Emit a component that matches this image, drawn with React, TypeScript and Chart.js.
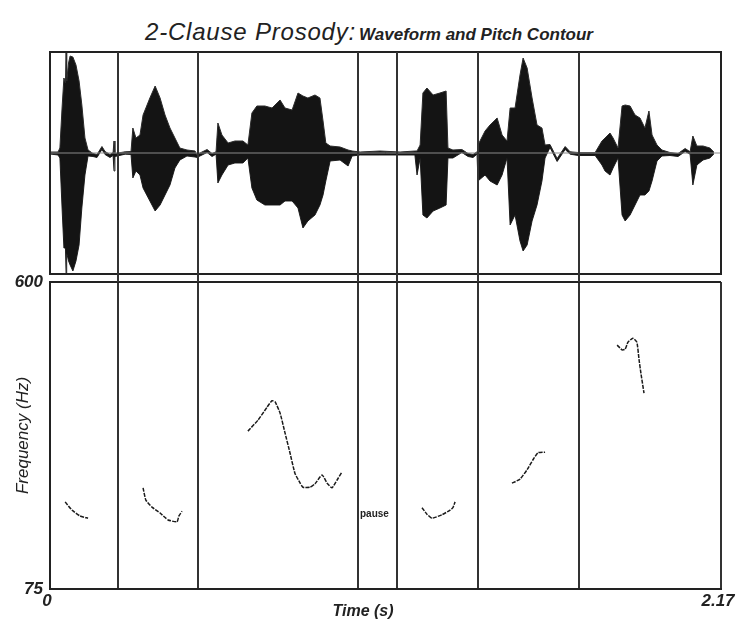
import React, { useEffect, useRef } from "react";
import { Chart, registerables } from "chart.js";

Chart.register(...registerables);

const FONT = '"Liberation Sans", Arial, Helvetica, sans-serif';

// ---- axes / segmentation ----
const timeMax = 2.17;
const boundaries = [0.22, 0.479, 0.996, 1.122, 1.384, 1.711];
const xTickLabels = ["0", "2.17"];
const freqTicks = [75, 600];
const pauseLabel = "pause";

// ---- waveform envelope (time in s, relative amplitude) ----
const waveTime = [
  0.0, 0.026, 0.032, 0.039, 0.045, 0.05, 0.052, 0.054, 0.06, 0.065, 0.074, 0.084, 0.094, 0.103, 0.113, 0.123,
  0.139, 0.152, 0.168, 0.178, 0.194, 0.204, 0.207, 0.21, 0.243, 0.262, 0.268, 0.278, 0.291, 0.301, 0.323, 0.34,
  0.356, 0.372, 0.388, 0.404, 0.42, 0.443, 0.469, 0.475, 0.508, 0.524, 0.537, 0.543, 0.556, 0.576, 0.598, 0.624,
  0.64, 0.653, 0.669, 0.695, 0.718, 0.744, 0.76, 0.783, 0.802, 0.818, 0.834, 0.857, 0.873, 0.883, 0.892, 0.906,
  0.938, 0.964, 0.977, 1.003, 1.067, 1.132, 1.18, 1.187, 1.197, 1.206, 1.219, 1.239, 1.261, 1.281, 1.287, 1.303,
  1.332, 1.352, 1.368, 1.381, 1.384, 1.407, 1.423, 1.446, 1.462, 1.478, 1.488, 1.504, 1.52, 1.53, 1.543, 1.559,
  1.575, 1.591, 1.601, 1.617, 1.64, 1.666, 1.682, 1.708, 1.763, 1.785, 1.795, 1.811, 1.821, 1.837, 1.85, 1.86,
  1.876, 1.892, 1.908, 1.924, 1.937, 1.947, 1.963, 1.979, 2.005, 2.031, 2.054, 2.07, 2.079, 2.092, 2.112, 2.134,
  2.147,
];
const waveTop = [
  0.01, 0.01, 0.05, 0.45, 0.75, 0.7, 1.01, 0.72, 0.9, 0.97, 0.96, 0.88, 0.72, 0.48, 0.15, 0.03,
  -0.005, -0.015, 0.065, 0.015, -0.015, 0.005, 0.12, -0.005, 0.012, 0.015, 0.25, 0.15, 0.18, 0.38, 0.55, 0.67,
  0.55, 0.38, 0.25, 0.15, 0.05, 0.03, 0.02, -0.015, 0.035, -0.005, 0.012, 0.3, 0.18, 0.1, 0.12, 0.12,
  0.08, 0.4, 0.47, 0.47, 0.45, 0.53, 0.45, 0.43, 0.6, 0.57, 0.55, 0.58, 0.55, 0.32, 0.1, 0.07,
  0.06, 0.03, 0.02, 0.01, 0.02, 0.01, 0.02, 0.02, 0.08, 0.6, 0.65, 0.58, 0.6, 0.62, 0.05, 0.03,
  0.035, -0.005, -0.015, 0.012, 0.08, 0.22, 0.28, 0.35, 0.18, 0.12, 0.45, 0.45, 0.78, 0.95, 0.85, 0.55,
  0.28, 0.25, 0.08, 0.085, -0.055, 0.065, 0.012, 0.005, 0.005, 0.12, 0.15, 0.2, 0.15, 0.05, 0.47, 0.48,
  0.47, 0.38, 0.35, 0.25, 0.42, 0.18, 0.08, 0.03, 0.005, -0.005, 0.045, 0.012, 0.17, 0.07, 0.07, 0.05,
  0.01,
];
const waveBottom = [
  -0.01, -0.02, -0.05, -0.55, -0.95, -0.95, -1.21, -1.0, -1.08, -1.12, -1.18, -1.08, -0.92, -0.55, -0.22, -0.03,
  -0.035, -0.045, 0.035, -0.015, -0.045, -0.025, -0.18, -0.035, -0.012, -0.015, -0.25, -0.18, -0.22, -0.35, -0.48, -0.58,
  -0.52, -0.42, -0.32, -0.15, -0.07, -0.03, -0.04, -0.045, 0.005, -0.035, -0.012, -0.3, -0.22, -0.12, -0.1, -0.1,
  -0.05, -0.35, -0.47, -0.52, -0.52, -0.52, -0.48, -0.48, -0.55, -0.75, -0.68, -0.62, -0.52, -0.42, -0.28, -0.08,
  -0.07, -0.13, -0.03, -0.02, -0.02, -0.02, -0.02, -0.22, -0.05, -0.62, -0.65, -0.58, -0.55, -0.52, -0.05, -0.05,
  0.005, -0.035, -0.045, -0.012, -0.28, -0.22, -0.28, -0.32, -0.22, -0.05, -0.72, -0.62, -0.88, -0.98, -0.92, -0.68,
  -0.52, -0.28, -0.05, 0.055, -0.085, 0.035, -0.012, -0.025, -0.025, -0.12, -0.18, -0.22, -0.15, -0.05, -0.62, -0.68,
  -0.62, -0.52, -0.42, -0.42, -0.38, -0.28, -0.08, -0.03, -0.025, -0.035, 0.015, -0.012, -0.32, -0.12, -0.07, -0.05,
  -0.01,
];

// ---- pitch contour segments (time in s, Hz) ----
const pitchT1 = [0.049, 0.071, 0.097, 0.123];
const pitchF1 = [224, 210, 200, 196];
const pitchT2 = [0.301, 0.31, 0.33, 0.356, 0.382, 0.411, 0.417, 0.427];
const pitchF2 = [248, 227, 215, 205, 193, 190, 200, 208];
const pitchT3 = [0.64, 0.673, 0.702, 0.718, 0.728, 0.744, 0.76, 0.776, 0.792, 0.809, 0.818, 0.841, 0.857, 0.88, 0.896, 0.912, 0.928, 0.944];
const pitchF3 = [345, 364, 386, 397, 395, 376, 342, 308, 273, 256, 249, 249, 255, 270, 256, 248, 261, 275];
const pitchT4 = [1.203, 1.219, 1.235, 1.268, 1.294, 1.303, 1.31];
const pitchF4 = [214, 203, 196, 202, 210, 214, 224];
const pitchT5 = [1.494, 1.52, 1.543, 1.562, 1.578, 1.601];
const pitchF5 = [256, 263, 279, 296, 308, 309];
const pitchT6 = [1.834, 1.85, 1.86, 1.869, 1.885, 1.898, 1.905, 1.911, 1.921];
const pitchF6 = [492, 484, 485, 497, 504, 497, 467, 444, 410];

const W = 736;
const H = 622;

export default function App() {
  const waveRef = useRef<HTMLCanvasElement>(null);
  const pitchRef = useRef<HTMLCanvasElement>(null);

  useEffect(() => {
    const upper = waveTime.map((t, i) => ({ x: t, y: waveTop[i] }));
    const lower = waveTime.map((t, i) => ({ x: t, y: waveBottom[i] }));

    const waveFrame = {
      id: "waveFrame",
      afterDatasetsDraw(chart: any) {
        const { ctx, chartArea, scales } = chart;
        const { left, right, top, bottom } = chartArea;
        ctx.save();
        ctx.strokeStyle = "#222";
        ctx.lineWidth = 2;
        ctx.strokeRect(left, top, right - left, bottom - top);
        ctx.strokeStyle = "#333";
        for (const b of boundaries) {
          const px = Math.round(scales.x.getPixelForValue(b));
          ctx.beginPath();
          ctx.moveTo(px, top);
          ctx.lineTo(px, bottom + 8);
          ctx.stroke();
        }
        ctx.restore();
      },
    };

    const wave = new Chart(waveRef.current!, {
      type: "line",
      data: {
        datasets: [
          {
            data: [
              { x: 0, y: 0 },
              { x: timeMax, y: 0 },
            ],
            borderColor: "#8a8a8a",
            borderWidth: 1,
            pointRadius: 0,
            fill: false,
            order: 0,
          },
          {
            data: upper,
            borderColor: "#2a2a2a",
            backgroundColor: "#141414",
            borderWidth: 1,
            pointRadius: 0,
            fill: "+1",
            order: 1,
          },
          {
            data: lower,
            borderColor: "#2a2a2a",
            borderWidth: 1,
            pointRadius: 0,
            fill: false,
            order: 2,
          },
        ],
      },
      options: {
        responsive: false,
        animation: false,
        layout: { padding: { left: 50, right: 15, top: 52, bottom: 348 } },
        plugins: { legend: { display: false }, tooltip: { enabled: false }, title: { display: false } },
        scales: {
          x: { type: "linear", min: 0, max: timeMax, display: false },
          y: { type: "linear", min: -1.21, max: 1.01, display: false },
        },
      },
      plugins: [waveFrame],
    });

    const segments = [
      [pitchT1, pitchF1],
      [pitchT2, pitchF2],
      [pitchT3, pitchF3],
      [pitchT4, pitchF4],
      [pitchT5, pitchF5],
      [pitchT6, pitchF6],
    ];

    const pitchLabels = {
      id: "pitchLabels",
      afterDraw(chart: any) {
        const { ctx, scales } = chart;
        ctx.save();
        ctx.fillStyle = "#222";
        ctx.font = `bold 10px ${FONT}`;
        ctx.textAlign = "left";
        ctx.textBaseline = "middle";
        const px = scales.x.getPixelForValue(boundaries[2]);
        ctx.fillText(pauseLabel, px + 2, scales.y.getPixelForValue(203));
        ctx.font = `italic bold 16px ${FONT}`;
        ctx.textAlign = "center";
        ctx.fillText("Time (s)", 363, 612);
        ctx.restore();
      },
    };

    const tickFont = { family: FONT, size: 17, style: "italic" as const, weight: "bold" as const };

    const pitch = new Chart(pitchRef.current!, {
      type: "line",
      data: {
        datasets: segments.map(([ts, fs]) => ({
          data: ts.map((t, i) => ({ x: t, y: fs[i] })),
          borderColor: "#1a1a1a",
          borderWidth: 1.5,
          borderDash: [4, 1.2],
          pointRadius: 0,
          fill: false,
          tension: 0.15,
        })),
      },
      options: {
        responsive: false,
        animation: false,
        layout: { padding: { left: 0, right: 15, top: 282, bottom: 0 } },
        plugins: { legend: { display: false }, tooltip: { enabled: false }, title: { display: false } },
        scales: {
          x: {
            type: "linear",
            min: 0,
            max: timeMax,
            afterBuildTicks: (s: any) => {
              s.ticks = [0, ...boundaries, timeMax].map((v) => ({ value: v }));
            },
            afterFit: (s: any) => {
              s.height = 33;
              s.paddingLeft = 0;
              s.paddingRight = 0;
            },
            ticks: {
              autoSkip: false,
              maxRotation: 0,
              padding: 2,
              labelOffset: -3,
              color: "#222",
              font: tickFont,
              callback: (v: any) => (v === 0 ? xTickLabels[0] : v === timeMax ? xTickLabels[1] : ""),
            },
            grid: { color: "#333", lineWidth: 2, drawTicks: false },
            border: { display: true, color: "#222", width: 2 },
          },
          y: {
            type: "linear",
            min: 75,
            max: 600,
            afterBuildTicks: (s: any) => {
              s.ticks = freqTicks.map((v) => ({ value: v }));
            },
            afterFit: (s: any) => {
              s.width = 50;
              s.paddingTop = 0;
              s.paddingBottom = 0;
            },
            ticks: {
              padding: 7,
              color: "#222",
              font: tickFont,
              callback: (v: any) => String(v),
            },
            grid: { color: "#222", lineWidth: 2, drawTicks: false },
            border: { display: true, color: "#222", width: 2 },
            title: {
              display: true,
              text: "Frequency (Hz)",
              color: "#222",
              font: { family: FONT, size: 17, style: "italic" },
              padding: { top: 13, bottom: 0 },
            },
          },
        },
      },
      plugins: [pitchLabels],
    });

    return () => {
      wave.destroy();
      pitch.destroy();
    };
  }, []);

  return (
    <div style={{ position: "absolute", left: 0, top: 0, width: W, height: H, background: "#fff", overflow: "hidden" }}>
      <div
        style={{
          position: "absolute",
          left: 145,
          top: 18,
          whiteSpace: "nowrap",
          color: "#222",
          fontFamily: FONT,
        }}
      >
        <span style={{ fontSize: 24, fontStyle: "italic", letterSpacing: "0.8px" }}>2-Clause Prosody:</span>
        <span style={{ fontSize: 17, fontStyle: "italic", fontWeight: "bold", marginLeft: 3 }}>
          Waveform and Pitch Contour
        </span>
      </div>
      <canvas ref={pitchRef} width={W} height={H} style={{ position: "absolute", left: 0, top: 0 }} />
      <canvas ref={waveRef} width={W} height={H} style={{ position: "absolute", left: 0, top: 0 }} />
    </div>
  );
}
